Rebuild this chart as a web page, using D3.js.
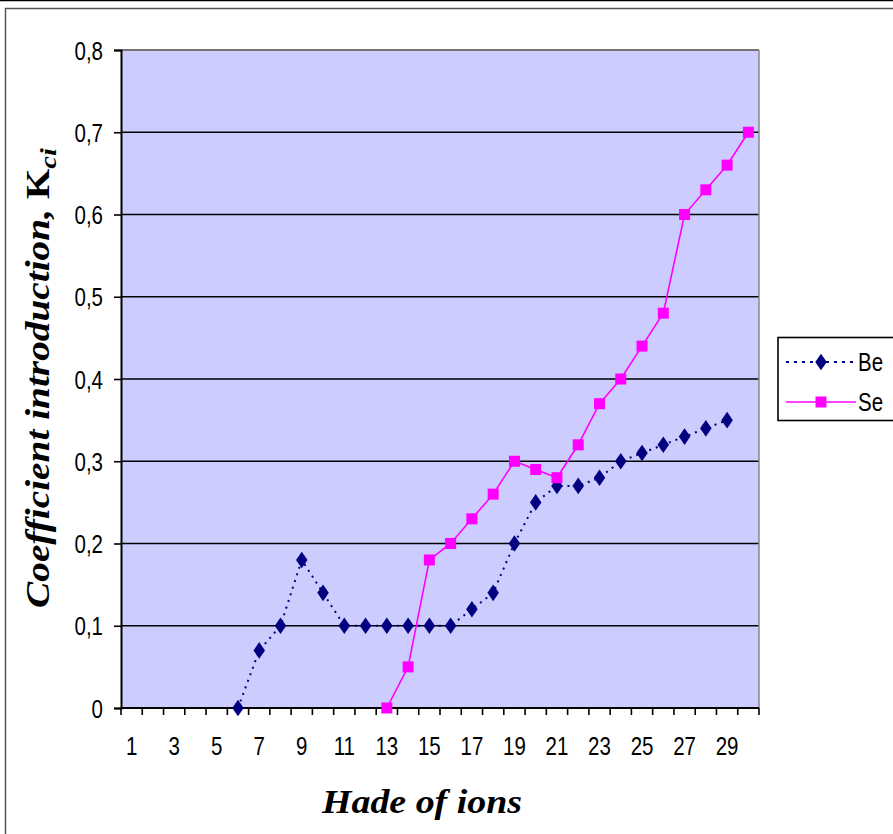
<!DOCTYPE html>
<html><head><meta charset="utf-8">
<script src="https://cdn.jsdelivr.net/npm/d3@7"></script>
<style>body{margin:0;background:#fff;}svg{display:block;}</style>
</head><body>
<svg id="c" width="893" height="834"></svg>
<script>
const categories = d3.range(1, 31);
const xTickLabels = [1,3,5,7,9,11,13,15,17,19,21,23,25,27,29];
const yTicks = [0,0.1,0.2,0.3,0.4,0.5,0.6,0.7,0.8];
const beX = [6,7,8,9,10,11,12,13,14,15,16,17,18,19,20,21,22,23,24,25,26,27,28,29];
const beY = [0,0.07,0.1,0.18,0.14,0.1,0.1,0.1,0.1,0.1,0.1,0.12,0.14,0.2,0.25,0.27,0.27,0.28,0.3,0.31,0.32,0.33,0.34,0.35];
const seX = [13,14,15,16,17,18,19,20,21,22,23,24,25,26,27,28,29,30];
const seY = [0,0.05,0.18,0.2,0.23,0.26,0.3,0.29,0.28,0.32,0.37,0.4,0.44,0.48,0.6,0.63,0.66,0.7];
const seriesNames = ["Be","Se"];

const svg = d3.select("#c");
const L = 121, R = 759, T = 50, B = 708;
const labelFont = "Liberation Sans, Arial, sans-serif";
const SX = 0.82;

// outer frame
svg.append("line").attr("x1",0).attr("x2",893).attr("y1",0.5).attr("y2",0.5).attr("stroke","#000").attr("stroke-width",1.5);
svg.append("rect").attr("x",5.5).attr("y",8.5).attr("width",900).attr("height",840)
  .attr("fill","none").attr("stroke","#555").attr("stroke-width",1.5);

const x = d3.scaleBand().domain(categories).range([L, R]);
const y = d3.scaleLinear().domain([0, 0.8]).range([B, T]);

svg.append("rect").attr("x",L).attr("y",T).attr("width",R-L).attr("height",B-T).attr("fill","#CCCCFF");

// gridlines
svg.append("g").selectAll("line").data(yTicks.slice(1)).join("line")
  .attr("x1",L).attr("x2",R).attr("y1",d=>y(d)).attr("y2",d=>y(d))
  .attr("stroke","#000").attr("stroke-width",1.6);
svg.append("line").attr("x1",L).attr("x2",R).attr("y1",T).attr("y2",T).attr("stroke","#888").attr("stroke-width",1.5);
svg.append("line").attr("x1",R).attr("x2",R).attr("y1",T).attr("y2",B).attr("stroke","#888").attr("stroke-width",1.5);

// y axis
const yAxis = d3.axisLeft(y).tickValues(yTicks).tickSize(7).tickPadding(10)
  .tickFormat(d => d === 0 ? "0" : d3.format(".1f")(d).replace(".", ","));
const gy = svg.append("g").attr("transform",`translate(${L},0)`).call(yAxis);
gy.select(".domain").attr("stroke","#000").attr("stroke-width",2);
gy.selectAll(".tick line").attr("stroke","#000").attr("stroke-width",1.6);
gy.selectAll("text").attr("font-family",labelFont).attr("font-size",25).attr("fill","#000")
  .attr("x", -18/SX).attr("dy","0.36em").attr("transform",`scale(${SX},1)`);

// x axis: ticks at band boundaries
const boundaries = categories.map(c => x(c)).concat([R]);
const gx = svg.append("g");
gx.append("line").attr("x1",L).attr("x2",R).attr("y1",B).attr("y2",B).attr("stroke","#000").attr("stroke-width",2);
gx.selectAll("line.t").data(boundaries).join("line").attr("class","t")
  .attr("x1",d=>d).attr("x2",d=>d).attr("y1",B).attr("y2",B+7).attr("stroke","#000").attr("stroke-width",1.6);
gx.selectAll("text").data(xTickLabels).join("text")
  .attr("transform",d=>`translate(${x(d)+x.bandwidth()/2},755) scale(${SX},1)`)
  .attr("text-anchor","middle")
  .attr("font-family",labelFont).attr("font-size",25).attr("fill","#000")
  .text(d=>d);

const cx = d => x(d) + x.bandwidth()/2;

// Be series
const beData = beX.map((d,i)=>[d, beY[i]]);
svg.append("path").datum(beData)
  .attr("d", d3.line().x(d=>cx(d[0])).y(d=>y(d[1])))
  .attr("fill","none").attr("stroke","#000080").attr("stroke-width",2).attr("stroke-dasharray","2,5");
const diamond = d3.symbol().type(d3.symbolDiamond).size(80);
svg.append("g").selectAll("path").data(beData).join("path")
  .attr("d", diamond).attr("transform", d=>`translate(${cx(d[0])},${y(d[1])}) scale(1.2,1)`)
  .attr("fill","#000080");

// Se series
const seData = seX.map((d,i)=>[d, seY[i]]);
svg.append("path").datum(seData)
  .attr("d", d3.line().x(d=>cx(d[0])).y(d=>y(d[1])))
  .attr("fill","none").attr("stroke","#FF00FF").attr("stroke-width",1.6);
svg.append("g").selectAll("rect").data(seData).join("rect")
  .attr("x", d=>cx(d[0])-5.5).attr("y", d=>y(d[1])-5.5).attr("width",11).attr("height",11)
  .attr("fill","#FF00FF");

// legend
const lg = svg.append("g");
lg.append("rect").attr("x",778).attr("y",337.5).attr("width",130).attr("height",83)
  .attr("fill","#fff").attr("stroke","#000").attr("stroke-width",1.6);
lg.append("line").attr("x1",786).attr("x2",856).attr("y1",362).attr("y2",362)
  .attr("stroke","#000080").attr("stroke-width",2).attr("stroke-dasharray","3,5");
lg.append("path").attr("d",diamond).attr("transform","translate(821,362) scale(1.2,1)").attr("fill","#000080");
lg.append("line").attr("x1",786).attr("x2",856).attr("y1",402).attr("y2",402)
  .attr("stroke","#FF00FF").attr("stroke-width",1.6);
lg.append("rect").attr("x",815.5).attr("y",396.5).attr("width",11).attr("height",11).attr("fill","#FF00FF");
lg.selectAll("text").data(seriesNames).join("text")
  .attr("transform",(d,i)=>`translate(858,${371+i*40}) scale(${SX},1)`)
  .attr("font-family",labelFont).attr("font-size",25).attr("fill","#000")
  .text(d=>d);

// axis titles
svg.append("text").attr("x",422).attr("y",813).attr("text-anchor","middle")
  .attr("font-family","Liberation Serif, Times New Roman, serif").attr("font-style","italic").attr("font-weight","bold")
  .attr("font-size",34).attr("textLength",200).attr("lengthAdjust","spacingAndGlyphs").text("Hade of ions");

const yt = svg.append("text").attr("transform","translate(49,378) rotate(-90)").attr("text-anchor","middle")
  .attr("font-family","Liberation Serif, Times New Roman, serif").attr("font-weight","bold").attr("font-size",33)
  .attr("textLength",460).attr("lengthAdjust","spacingAndGlyphs");
yt.append("tspan").attr("font-style","italic").text("Coefficient introduction, ");
yt.append("tspan").text("K");
yt.append("tspan").attr("font-style","italic").attr("font-size",24).attr("dy",7).text("ci");
</script>
</body></html>
